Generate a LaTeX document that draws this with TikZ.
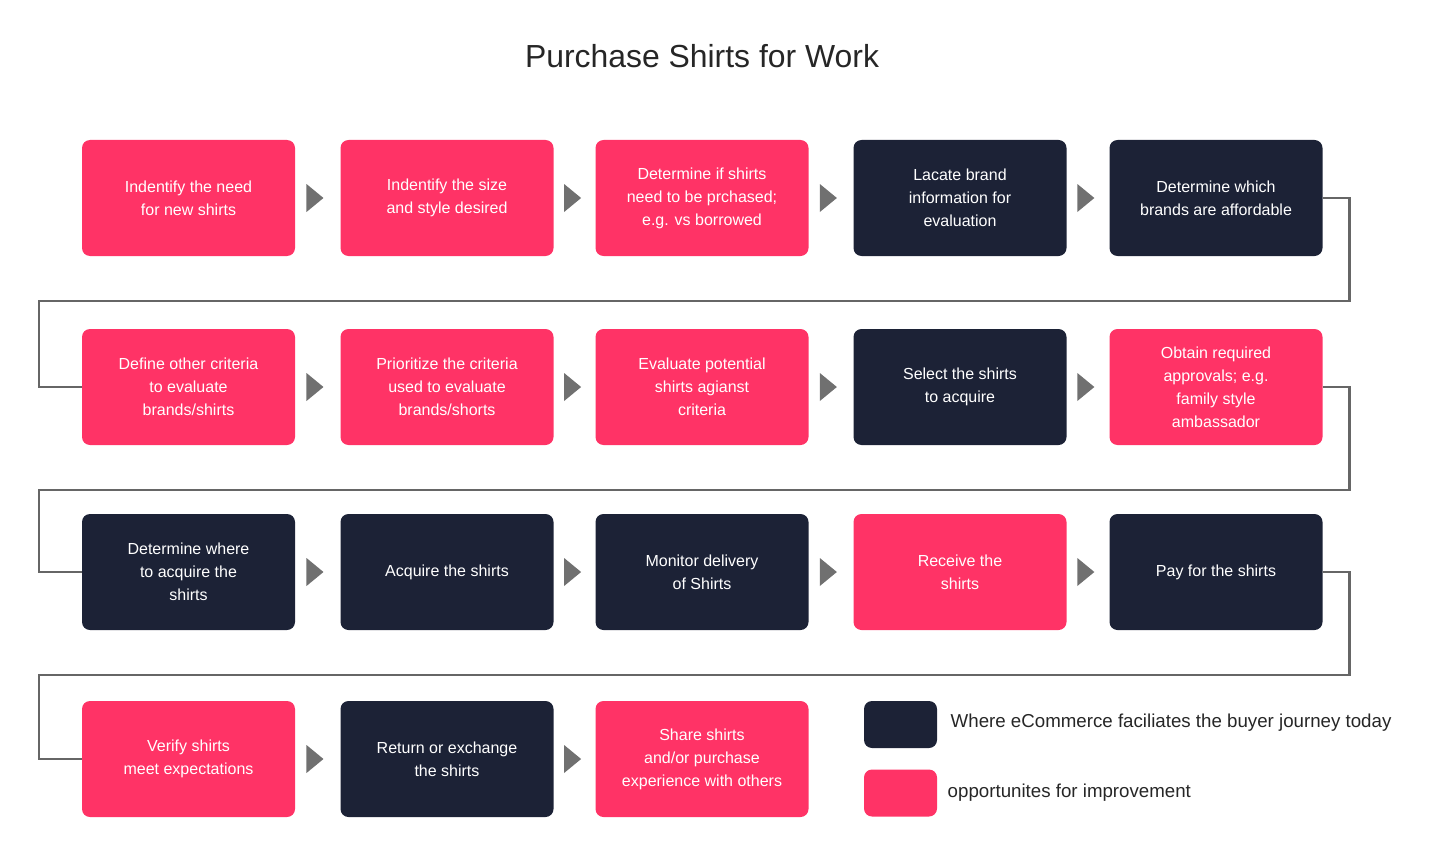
\documentclass[tikz,border=0pt]{standalone}
\usepackage{fontspec}
\setmainfont{Liberation Sans}
\usetikzlibrary{calc}
\definecolor{pinkbox}{HTML}{FF3366}
\definecolor{navybox}{HTML}{1C2236}
\definecolor{arrowgray}{HTML}{707070}
\definecolor{linkgray}{HTML}{666666}
\tikzset{
    stepbox/.style={rounded corners=8pt, minimum width=213pt, minimum height=116pt,
        align=center, text=white, inner sep=0pt, font=\fontsize{16}{23}\selectfont},
    pinkstep/.style={stepbox, fill=pinkbox},
    navystep/.style={stepbox, fill=navybox},
    link/.style={linkgray, line width=2.5pt},
    legendbox/.style={rounded corners=8pt, minimum width=73pt, minimum height=47pt, inner sep=0pt}
}
\begin{document}
\begin{tikzpicture}[x=1pt, y=-1pt]
        \useasboundingbox (0,0) rectangle (1446,856);
        \node[text=black!85, font=\fontsize{31.9}{38}\selectfont] (title) at (702,56) {Purchase Shirts for Work};

        % row 1
        \node[pinkstep] (s1) at (188.5,198) {Indentify the need\\for new shirts};
        \node[pinkstep] (s2) at (447,198) {Indentify the size\\and style desired};
        \node[pinkstep] (s3) at (702,198) {Determine if shirts\\need to be prchased;\\e.g. vs borrowed};
        \node[navystep] (s4) at (960,198) {Lacate brand\\information for\\evaluation};
        \node[navystep] (s5) at (1216,198) {Determine which\\brands are affordable};
        % row 2
        \node[pinkstep] (s6) at (188.5,387) {Define other criteria\\to evaluate\\brands/shirts};
        \node[pinkstep] (s7) at (447,387) {Prioritize the criteria\\used to evaluate\\brands/shorts};
        \node[pinkstep] (s8) at (702,387) {Evaluate potential\\shirts agianst\\criteria};
        \node[navystep] (s9) at (960,387) {Select the shirts\\to acquire};
        \node[pinkstep] (s10) at (1216,387) {Obtain required\\approvals; e.g.\\family style\\ambassador};
        % row 3
        \node[navystep] (s11) at (188.5,572) {Determine where\\to acquire the\\shirts};
        \node[navystep] (s12) at (447,572) {Acquire the shirts};
        \node[navystep] (s13) at (702,572) {Monitor delivery\\of Shirts};
        \node[pinkstep] (s14) at (960,572) {Receive the\\shirts};
        \node[navystep] (s15) at (1216,572) {Pay for the shirts};
        % row 4
        \node[pinkstep] (s16) at (188.5,759) {Verify shirts\\meet expectations};
        \node[navystep] (s17) at (447,759) {Return or exchange\\the shirts};
        \node[pinkstep] (s18) at (702,759) {Share shirts\\and/or purchase\\experience with others};

        % arrow heads between the boxes
        \foreach \a/\b in {s1/s2, s2/s3, s3/s4, s4/s5, s6/s7, s7/s8, s8/s9, s9/s10,
                s11/s12, s12/s13, s13/s14, s14/s15, s16/s17, s17/s18} {
                \fill[arrowgray] ($(\a.east)!0.25!(\b.west)+(0,-14)$) -- ++(17,14) -- ++(-17,14) -- cycle;
            }

        % row connectors
        \foreach \a/\b in {s5/s6, s10/s11, s15/s16} {
                \draw[link] (\a.east) -- ++(27,0) -- ++(0,103) -| ([xshift=-43pt]\b.west) -- (\b.west);
            }

        % legend
        \node[legendbox, fill=navybox] (keynavy) at (900.5,724.5) {};
        \node[legendbox, fill=pinkbox] (keypink) at (900.5,793) {};
        \node[anchor=west, text=black!85, font=\fontsize{18.7}{22}\selectfont] (keynavytext) at ([xshift=10pt,yshift=2pt]keynavy.east) {Where eCommerce faciliates the buyer journey today};
        \node[anchor=west, text=black!85, font=\fontsize{18.7}{22}\selectfont] (keypinktext) at ([xshift=7pt]keypink.east) {opportunites for improvement};
    \end{tikzpicture}
\end{document}
